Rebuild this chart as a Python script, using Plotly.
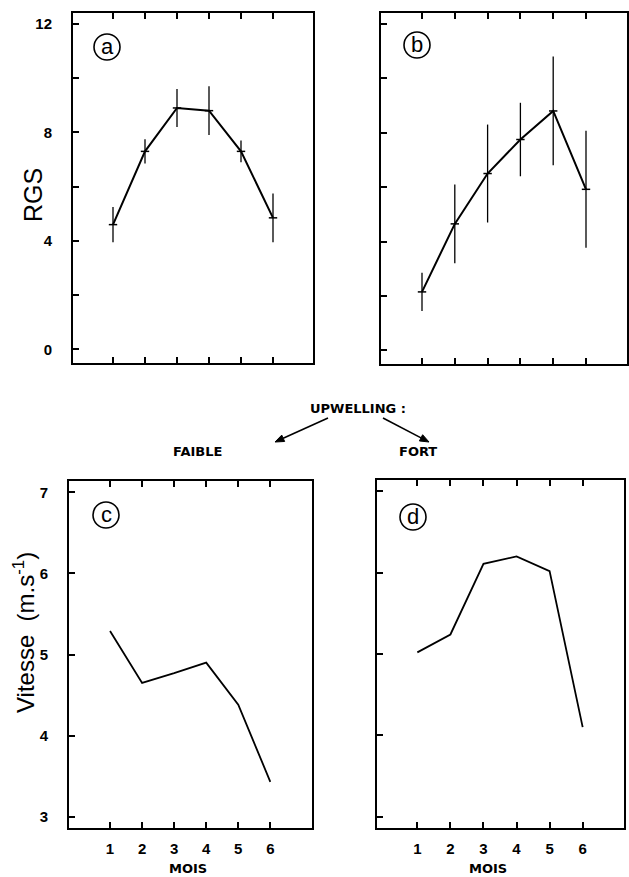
import math
import plotly.graph_objects as go

W, H = 629, 877

# ---- data ----
months = [1, 2, 3, 4, 5, 6]
rgs_faible = [4.6, 7.3, 8.9, 8.8, 7.3, 4.85]
rgs_faible_err = [0.65, 0.45, 0.7, 0.9, 0.4, 0.9]
rgs_fort = [2.15, 4.65, 6.5, 7.75, 8.8, 5.92]
rgs_fort_err = [0.7, 1.45, 1.8, 1.35, 2.0, 2.15]
vit_faible = [5.29, 4.65, 4.77, 4.9, 4.38, 3.43]
vit_fort = [5.02, 5.24, 6.11, 6.2, 6.02, 4.1]

rgs_ticks = [0, 4, 8, 12]
rgs_minor_ticks = [2, 6, 10]
vit_ticks = [3, 4, 5, 6, 7]


def px(x):
    return x / W


def py(y):
    return 1 - y / H


FONT = "Liberation Sans"
WIDE = "DejaVu Sans"

fig = go.Figure()

# panel a
fig.add_trace(go.Scatter(x=months, y=rgs_faible, mode="lines+markers",
                         line=dict(color="black", width=2),
                         marker=dict(symbol="line-ew", size=6, line=dict(width=1.5, color="black")),
                         error_y=dict(type="data", array=rgs_faible_err, color="black", thickness=1.3, width=0),
                         xaxis="x", yaxis="y", showlegend=False))
# panel b
fig.add_trace(go.Scatter(x=months, y=rgs_fort, mode="lines+markers",
                         line=dict(color="black", width=2),
                         marker=dict(symbol="line-ew", size=6, line=dict(width=1.5, color="black")),
                         error_y=dict(type="data", array=rgs_fort_err, color="black", thickness=1.3, width=0),
                         xaxis="x2", yaxis="y2", showlegend=False))
# panel c
fig.add_trace(go.Scatter(x=months, y=vit_faible, mode="lines",
                         line=dict(color="black", width=1.8),
                         xaxis="x3", yaxis="y3", showlegend=False))
# panel d
fig.add_trace(go.Scatter(x=months, y=vit_fort, mode="lines",
                         line=dict(color="black", width=1.8),
                         xaxis="x4", yaxis="y4", showlegend=False))

tickfont = dict(family=FONT, size=15, color="black", weight="bold")


def xax(x0, x1, anchor, rng, labels):
    return dict(domain=[px(x0), px(x1)], anchor=anchor, range=rng,
                tickmode="array", tickvals=months,
                showticklabels=labels, ticks="inside", ticklen=6, tickwidth=1.5,
                tickcolor="black", showline=True, linecolor="black", linewidth=2,
                mirror="ticks", showgrid=False, zeroline=False, tickfont=tickfont,
                ticklabelstandoff=6)


def yax(y0, y1, anchor, rng, vals, labels, minor=None):
    d = dict(domain=[py(y1), py(y0)], anchor=anchor, range=rng,
             tickmode="array", tickvals=vals, showticklabels=labels,
             ticks="inside", ticklen=6, tickwidth=1.5, tickcolor="black",
             showline=True, linecolor="black", linewidth=2, mirror=True,
             showgrid=False, zeroline=False, tickfont=tickfont,
             ticklabelstandoff=16)
    if minor:
        d["minor"] = dict(tickmode="array", tickvals=minor, ticks="inside",
                          ticklen=6, tickwidth=1.5, tickcolor="black", showgrid=False)
    return d


fig.update_layout(
    width=W, height=H, margin=dict(l=0, r=0, t=0, b=0),
    paper_bgcolor="white", plot_bgcolor="white",
    xaxis=xax(73, 313, "y", [-0.25, 7.25], False),
    yaxis=yax(13, 363, "x", [-0.5, 12.4], rgs_ticks, True, rgs_minor_ticks),
    xaxis2=xax(381, 627, "y2", [-0.25, 7.25], False),
    yaxis2=yax(13, 364, "x2", [-0.5, 12.4], rgs_ticks, False, rgs_minor_ticks),
    xaxis3=xax(69, 312, "y3", [-0.28, 7.3], True),
    yaxis3=yax(481, 828, "x3", [2.86, 7.14], vit_ticks, True),
    xaxis4=xax(377, 624, "y4", [-0.22, 7.25], True),
    yaxis4=yax(480, 828, "x4", [2.86, 7.14], vit_ticks, False),
)

ann = []
shapes = []


def label(text, cx, cy, size, family, bold=False, angle=0):
    f = dict(family=family, size=size, color="black")
    if bold:
        f["weight"] = "bold"
    ann.append(dict(x=px(cx), y=py(cy), xref="paper", yref="paper", text=text,
                    xanchor="center", yanchor="middle", textangle=angle,
                    showarrow=False, font=f))


def arrow(x0, y0, x1, y1, head=9, half=3.5):
    dx, dy = x1 - x0, y1 - y0
    L = math.hypot(dx, dy)
    ux, uy = dx / L, dy / L
    bx, by = x1 - ux * head, y1 - uy * head
    shapes.append(dict(type="line", xref="paper", yref="paper",
                       x0=px(x0), y0=py(y0), x1=px(bx), y1=py(by),
                       line=dict(color="black", width=1.6)))
    p1 = (bx - uy * half, by + ux * half)
    p2 = (bx + uy * half, by - ux * half)
    path = "M {} {} L {} {} L {} {} Z".format(px(x1), py(y1), px(p1[0]), py(p1[1]),
                                              px(p2[0]), py(p2[1]))
    shapes.append(dict(type="path", xref="paper", yref="paper", path=path,
                       fillcolor="black", line=dict(color="black", width=1)))


# axis titles
label("RGS", 33, 195, 25, FONT, angle=-90)
label("Vitesse  (m.s<sup>-1</sup>)", 24, 633, 24, FONT, angle=-90)
# MOIS
for cx in (188, 488):
    label("MOIS", cx, 868, 13, WIDE, bold=True)
# upwelling labels
label("UPWELLING :", 358, 408, 13, WIDE, bold=True)
label("FAIBLE", 197, 452, 13, WIDE, bold=True)
label("FORT", 418, 452, 13, WIDE, bold=True)
# arrows
arrow(328, 418, 275, 442)
arrow(383, 418, 429, 442)

# circled panel letters
for letter, cx, cy in (("a", 107, 47), ("b", 417, 45), ("c", 106, 515), ("d", 413, 517)):
    r = 13
    shapes.append(dict(type="circle", xref="paper", yref="paper",
                       x0=px(cx - r), x1=px(cx + r), y0=py(cy + r), y1=py(cy - r),
                       line=dict(color="black", width=1.6)))
    label(letter, cx, cy - 1, 22, FONT)

fig.update_layout(annotations=ann, shapes=shapes)

fig.write_html("out.html", config={"displayModeBar": False},
               post_script="document.body.style.margin='0px';")
